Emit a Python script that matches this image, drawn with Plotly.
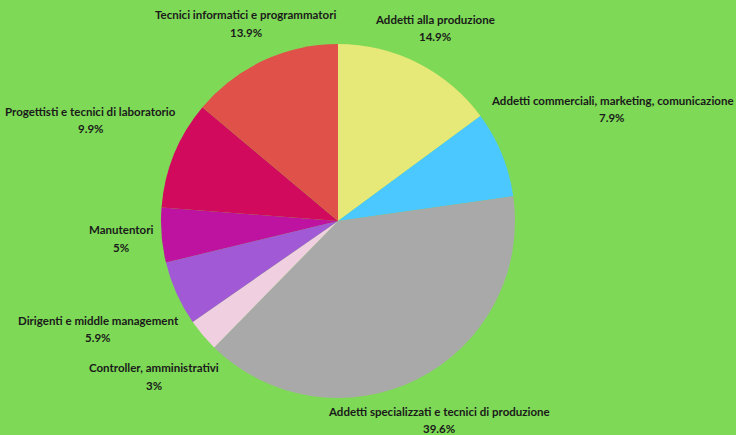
import math
import plotly.graph_objects as go

# Occupational groups and their share (%)
categories = [
    "Addetti alla produzione",
    "Addetti commerciali, marketing, comunicazione",
    "Addetti specializzati e tecnici di produzione",
    "Controller, amministrativi",
    "Dirigenti e middle management",
    "Manutentori",
    "Progettisti e tecnici di laboratorio",
    "Tecnici informatici e programmatori",
]
shares = [14.9, 7.9, 39.6, 3, 5.9, 5, 9.9, 13.9]
slice_colors = ["#E6E878", "#4BC8FF", "#A9A9A9", "#F0D0E0",
                "#A259D6", "#BE13A0", "#D20A5E", "#E0514A"]

# Layout: distance (px) of each label block centre from the pie centre,
# measured along the slice bisector
label_dist = [216, 296, 223, 241, 263, 218, 267, 218]

W, H = 736, 435
CX, CY, R = 338.0, 221.0, 177.0          # pie centre / radius in px
LINE_HALF = 8.75                           # half distance between the two text lines
FONT = dict(family="Lato", size=11.5, color="#1a1a1a")

dom_x = [(CX - R) / W, (CX + R) / W]
dom_y = [1 - (CY + R) / H, 1 - (CY - R) / H]

fig = go.Figure(go.Pie(
    labels=categories,
    values=shares,
    sort=False,
    direction="clockwise",
    rotation=0,
    marker=dict(colors=slice_colors, line=dict(width=0)),
    textinfo="none",
    hovertemplate="%{label}<br>%{value}%<extra></extra>",
    domain=dict(x=dom_x, y=dom_y),
    showlegend=False,
))

# Outside labels placed along each slice's bisector
total = sum(shares)
cum = 0.0
annotations = []
for name, v, d in zip(categories, shares, label_dist):
    theta = 2 * math.pi * (cum + v / 2) / total
    cum += v
    px = CX + d * math.sin(theta)
    py = CY - d * math.cos(theta)
    pct = f"{v:g}%"
    for txt, dy in ((name, -LINE_HALF), (pct, LINE_HALF)):
        annotations.append(dict(
            x=px / W, y=1 - (py + dy) / H, xref="paper", yref="paper",
            text=f"<b>{txt}</b>", showarrow=False,
            xanchor="center", yanchor="middle", font=FONT,
        ))

fig.update_layout(
    width=W, height=H,
    margin=dict(l=0, r=0, t=0, b=0),
    paper_bgcolor="#7ED957",
    plot_bgcolor="#7ED957",
    annotations=annotations,
)

fig.write_html("out.html")
